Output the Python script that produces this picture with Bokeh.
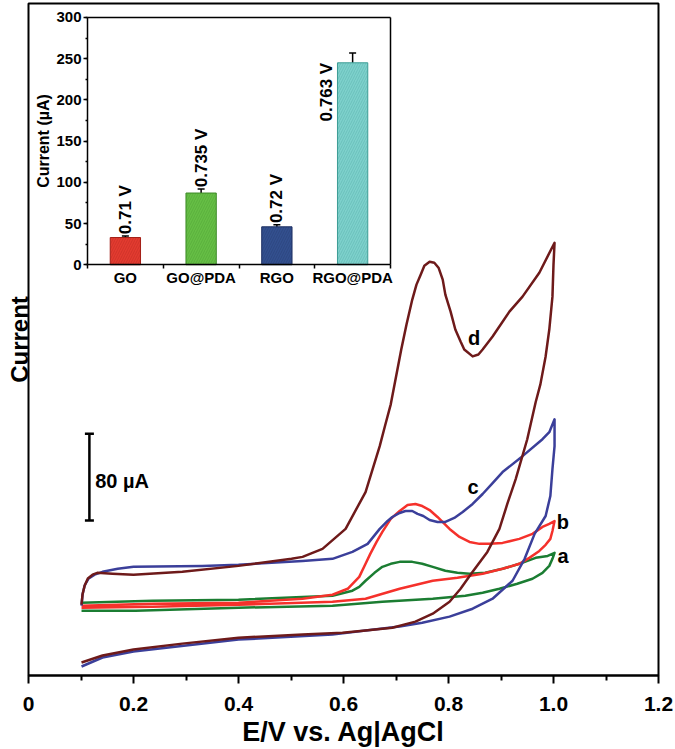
import numpy as np
from bokeh.plotting import figure
from bokeh.models import (Range1d, LinearAxis, FixedTicker, SingleIntervalTicker,
                          ColumnDataSource, Whisker, TeeHead)
from bokeh.core.properties import value
from bokeh.embed import file_html
from bokeh.resources import INLINE

# ---------------- CV curves (E in V vs Ag|AgCl, I in µA, arbitrary offset) ----------------
# a: GO
a_E = [0.101, 0.236, 0.400, 0.579, 0.617, 0.630, 0.642, 0.659, 0.674, 0.690, 0.707, 0.731,
       0.750, 0.770, 0.794, 0.817, 0.840, 0.870, 0.903, 0.935, 0.966, 0.989, 1.002,
       0.998, 0.992, 0.979, 0.960, 0.931, 0.897, 0.865, 0.832, 0.770, 0.674, 0.579, 0.400,
       0.204, 0.101]
a_I = [67.1, 69.0, 69.9, 73.6, 78.2, 81.8, 87.4, 94.7, 100.2, 103.0, 104.8, 104.8,
       103.0, 100.2, 96.6, 94.7, 93.8, 94.7, 98.4, 103.0, 108.5, 110.3, 113.1,
       107.6, 101.1, 94.7, 89.2, 84.6, 80.0, 76.3, 73.6, 70.8, 68.0, 64.4, 62.5,
       59.8, 59.8]
# b: GO@PDA
b_E = [0.101, 0.236, 0.400, 0.522, 0.579, 0.608, 0.630, 0.642, 0.651, 0.663, 0.674, 0.690,
       0.707, 0.722, 0.737, 0.750, 0.764, 0.779, 0.802, 0.821, 0.840, 0.859, 0.878, 0.903,
       0.935, 0.960, 0.979, 0.992, 1.002,
       0.998, 0.994, 0.985, 0.973, 0.954, 0.935, 0.903, 0.865, 0.817, 0.770, 0.707, 0.642,
       0.579, 0.400, 0.236, 0.101]
b_I = [64.4, 66.2, 67.1, 70.8, 74.5, 80.0, 91.0, 103.0, 112.2, 123.2, 132.4, 144.4,
       151.7, 157.2, 158.2, 156.3, 152.6, 146.2, 135.2, 127.8, 123.2, 121.4, 121.4, 122.3,
       126.0, 130.6, 137.0, 139.8, 142.5,
       133.3, 126.0, 120.5, 114.9, 108.5, 103.0, 98.4, 93.8, 90.1, 87.4, 80.0, 70.8,
       68.0, 65.3, 63.4, 62.5]
# c: RGO
c_E = [0.101, 0.103, 0.107, 0.114, 0.126, 0.141, 0.170, 0.200, 0.331, 0.400, 0.522, 0.579,
       0.617, 0.646, 0.669, 0.684, 0.693, 0.707, 0.718, 0.731, 0.741, 0.752, 0.764, 0.779,
       0.794, 0.811, 0.827, 0.846, 0.865, 0.884, 0.903, 0.941, 0.979, 0.992, 1.002,
       1.002, 0.998, 0.994, 0.985, 0.964, 0.945, 0.922, 0.884, 0.846, 0.802, 0.750, 0.707,
       0.642, 0.579, 0.400, 0.200, 0.141, 0.101]
c_I = [64.4, 75.0, 83.0, 89.2, 93.0, 95.6, 98.4, 100.2, 101.1, 102.1, 105.7, 107.6,
       114.0, 121.4, 135.2, 142.5, 146.2, 149.9, 151.7, 151.7, 149.0, 147.1, 143.4, 141.6,
       141.6, 145.3, 150.8, 158.2, 167.4, 177.5, 187.6, 202.3, 217.9, 224.4, 236.3,
       211.5, 190.3, 165.5, 147.1, 130.6, 107.6, 87.4, 70.8, 61.6, 54.3, 48.7, 45.1,
       41.4, 37.7, 33.1, 22.1, 16.6, 8.3]
# d: RGO@PDA
d_E = [0.101, 0.103, 0.107, 0.113, 0.122, 0.131, 0.160, 0.200, 0.293, 0.400, 0.501, 0.522,
       0.560, 0.604, 0.642, 0.669, 0.680, 0.690, 0.710, 0.720, 0.731, 0.739, 0.747, 0.754,
       0.764, 0.773, 0.781, 0.789, 0.794, 0.804, 0.813, 0.823, 0.830, 0.846, 0.857, 0.865,
       0.884, 0.916, 0.941, 0.973, 1.002,
       1.000, 0.998, 0.992, 0.985, 0.975, 0.966, 0.950, 0.928, 0.912, 0.897, 0.874, 0.846,
       0.823, 0.802, 0.770, 0.737, 0.693, 0.642, 0.598, 0.522, 0.400, 0.293, 0.200, 0.141,
       0.101]
d_I = [65.3, 75.0, 83.0, 89.5, 93.0, 94.7, 93.8, 92.9, 95.6, 101.1, 107.6, 109.4,
       116.8, 135.2, 169.2, 211.5, 232.0, 250.1, 300.7, 323.7, 346.7, 360.5, 369.7, 377.9,
       381.6, 380.7, 376.1, 365.1, 351.3, 335.6, 319.1, 308.0, 300.7, 294.3, 296.1, 300.7,
       312.6, 335.6, 349.4, 371.5, 399.1,
       378.9, 349.4, 319.1, 294.3, 268.5, 252.0, 217.9, 181.2, 158.2, 135.2, 114.0, 95.6,
       80.0, 68.0, 57.0, 49.7, 44.1, 41.4, 39.5, 37.7, 34.9, 29.4, 23.9, 18.4,
       12.0]

curve_names = ["a", "b", "c", "d"]
curve_colors = ["#1b7d32", "#f5312b", "#3b3f9a", "#6e1a1a"]
label_E = [1.018, 1.018, 0.847, 0.849]
label_I = [110.3, 141.6, 173.8, 311.7]

x_ticks = [0, 0.2, 0.4, 0.6, 0.8, 1.0, 1.2]
x_tick_labels = ["0", "0.2", "0.4", "0.6", "0.8", "1.0", "1.2"]
x_minor = [0.1, 0.3, 0.5, 0.7, 0.9, 1.1]

scalebar_E = [0.116]
scalebar_low = [143.0]
scalebar_uA = 80

# ---------------- inset bar chart ----------------
cats = ["GO", "GO@PDA", "RGO", "RGO@PDA"]
peak_current = [33, 87, 46, 245]
peak_err = [2, 5, 2.5, 12]
peak_potential = ["0.71 V", "0.735 V", "0.72 V", "0.763 V"]
bar_fill = ["#e33b30", "#66bf45", "#33508f", "#7ed1cc"]
bar_hatch = ["#a31f17", "#3d8a27", "#1d2f62", "#3c9c95"]

# ---------------- layout (canvas pixels) ----------------
W, H = 675, 749
FL, FR, FT, FB = 28, 658, 3, 677          # main frame edges
IL, IR, IT, IB = 87, 390, 17, 265         # inset axes box
PX_PER_UA = 1.0875

FONT = "Liberation Sans"

p = figure(width=W, height=H, output_backend="svg", toolbar_location=None,
           x_range=Range1d(0, 1.2), y_range=Range1d(0, (FB - FT) / PX_PER_UA),
           y_axis_location=None)
p.min_border_left = FL
p.min_border_right = W - FR
p.min_border_top = FT
p.min_border_bottom = H - FB
p.grid.visible = False
p.outline_line_color = "black"
p.outline_line_width = 2
p.background_fill_color = "white"
p.border_fill_color = "white"

# main x axis
xa = p.below[0]
xa.ticker = FixedTicker(ticks=x_ticks, minor_ticks=x_minor)
xa.major_label_overrides = {t: s for t, s in zip(x_ticks, x_tick_labels)}
xa.axis_label = "E/V vs. Ag|AgCl"
xa.axis_label_text_font = FONT
xa.axis_label_text_font_style = "bold"
xa.axis_label_text_font_size = "27px"
xa.axis_label_text_color = "black"
xa.axis_label_standoff = 3
xa.major_label_text_font = FONT
xa.major_label_text_font_style = "bold"
xa.major_label_text_font_size = "21px"
xa.major_label_text_color = "black"
xa.major_label_standoff = 13
xa.axis_line_width = 2
xa.major_tick_line_width = 2
xa.minor_tick_line_width = 2
xa.major_tick_in = 0
xa.major_tick_out = 8
xa.minor_tick_in = 0
xa.minor_tick_out = 5

# main y axis: title only, no ticks or tick labels
ya = LinearAxis(ticker=FixedTicker(ticks=[]), axis_label="Current",
                axis_line_color=None, major_tick_line_color=None, minor_tick_line_color=None,
                major_tick_in=0, major_tick_out=0, minor_tick_in=0, minor_tick_out=0,
                major_label_text_font_size="0px", major_label_standoff=0,
                axis_label_standoff=-4,
                axis_label_text_font=FONT, axis_label_text_font_style="bold",
                axis_label_text_font_size="24px", axis_label_text_color="black")
p.add_layout(ya, "left")

# curves
for E, I, col in zip([a_E, b_E, c_E, d_E], [a_I, b_I, c_I, d_I], curve_colors):
    p.line(E, I, line_color=col, line_width=2.5, line_join="round")

p.text(x=label_E, y=label_I, text=curve_names, text_font=value(FONT), text_font_style="bold",
       text_font_size="20px", text_align="center", text_baseline="middle", text_color="black")

# 80 µA scale bar
sb = ColumnDataSource(dict(x=scalebar_E, lo=scalebar_low,
                           up=[v + scalebar_uA for v in scalebar_low]))
p.add_layout(Whisker(source=sb, base="x", lower="lo", upper="up", line_width=2.5,
                     line_color="black",
                     upper_head=TeeHead(size=9, line_width=2.5),
                     lower_head=TeeHead(size=9, line_width=2.5)))
p.text(x=[scalebar_E[0] + 0.011], y=[scalebar_low[0] + scalebar_uA / 2 - 4],
       text=[f"{scalebar_uA} µA"], text_font=value(FONT), text_font_style="bold",
       text_font_size="20px", text_align="left", text_baseline="middle")

# ---------------- inset via extra ranges ----------------
kx = 4 / (IR - IL)
ky = 300 / (IB - IT)
p.extra_x_ranges = {"ix": Range1d(0.5 - (IL - FL) * kx, 4.5 + (FR - IR) * kx)}
p.extra_y_ranges = {"iy": Range1d(0 - (FB - IB) * ky, 300 + (IT - FT) * ky)}

xs = [1, 2, 3, 4]
bsrc = ColumnDataSource(dict(x=xs, top=peak_current, fill=bar_fill, hatch=bar_hatch,
                             lo=[v - e for v, e in zip(peak_current, peak_err)],
                             up=[v + e for v, e in zip(peak_current, peak_err)]))
p.vbar(x="x", top="top", bottom=0, width=0.4, source=bsrc, x_range_name="ix",
       y_range_name="iy", fill_color="fill", line_color="hatch", line_width=1,
       hatch_pattern="/", hatch_color="hatch", hatch_scale=5, hatch_weight=0.6,
       hatch_alpha=0.5)
p.add_layout(Whisker(source=bsrc, base="x", lower="lo", upper="up", x_range_name="ix",
                     y_range_name="iy", line_width=1.5, line_color="black",
                     upper_head=TeeHead(size=7, line_width=1.5),
                     lower_head=TeeHead(size=7, line_width=1.5)))

# value labels (rotated)
p.text(x=xs[:3], y=[v + e + 2 for v, e in zip(peak_current[:3], peak_err[:3])],
       text=peak_potential[:3], angle=np.pi / 2, x_range_name="ix", y_range_name="iy",
       text_font=value(FONT), text_font_style="bold", text_font_size="17px",
       text_align="left", text_baseline="middle")
p.text(x=[xs[3] - 0.34], y=[peak_current[3]], text=peak_potential[3:], angle=np.pi / 2,
       x_range_name="ix", y_range_name="iy",
       text_font=value(FONT), text_font_style="bold", text_font_size="17px",
       text_align="right", text_baseline="middle")

common = dict(x_range_name="ix", y_range_name="iy", axis_line_width=1.5,
              major_tick_line_width=1.5, minor_tick_line_width=1.5)

iya = LinearAxis(fixed_location=0.5, bounds=(0, 300),
                 ticker=SingleIntervalTicker(interval=50, num_minor_ticks=2),
                 axis_label="Current (µA)", axis_label_standoff=1,
                 axis_label_text_font=FONT, axis_label_text_font_style="bold",
                 axis_label_text_font_size="16px", axis_label_text_color="black",
                 major_label_text_font=FONT, major_label_text_font_style="bold",
                 major_label_text_font_size="15px", major_label_text_color="black",
                 major_label_standoff=2,
                 major_tick_in=0, major_tick_out=4, minor_tick_in=0, minor_tick_out=2,
                 **common)
p.add_layout(iya, "left")

ixa = LinearAxis(fixed_location=0, bounds=(0.5, 4.5),
                 ticker=FixedTicker(ticks=xs, minor_ticks=[0.5, 1.5, 2.5, 3.5, 4.5]),
                 major_label_overrides={x: c for x, c in zip(xs, cats)},
                 major_label_text_font=FONT, major_label_text_font_style="bold",
                 major_label_text_font_size="15px", major_label_text_color="black",
                 major_label_standoff=0,
                 major_tick_in=0, major_tick_out=0, minor_tick_in=0, minor_tick_out=4,
                 **common)
p.add_layout(ixa, "below")

ita = LinearAxis(fixed_location=300, bounds=(0.5, 4.5), ticker=FixedTicker(ticks=[]),
                 major_label_text_font_size="0px", **common)
p.add_layout(ita, "above")
ira = LinearAxis(fixed_location=4.5, bounds=(0, 300), ticker=FixedTicker(ticks=[]),
                 major_label_text_font_size="0px", **common)
p.add_layout(ira, "right")

open("out.html", "w").write(file_html(p, INLINE))
